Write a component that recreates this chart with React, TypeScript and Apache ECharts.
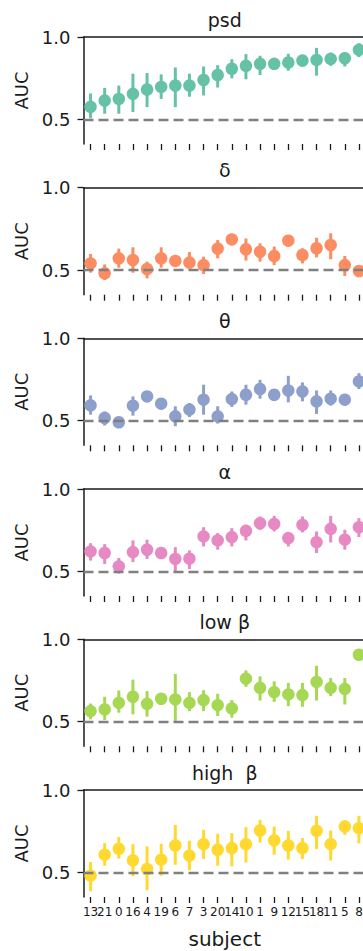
import React, { useEffect, useRef } from "react";
import * as echarts from "echarts";

// Subjects, ordered by their mean psd AUC
const subjects = ["13", "21", "0", "16", "4", "19", "6", "7", "3", "20", "14", "10", "1", "9", "12", "15", "18", "11", "5", "8"];

const bandNames = ["psd", "δ", "θ", "α", "low β", "high  β"];
const bandColors = ["#66c2a5", "#fc8d62", "#8da0cb", "#e78ac3", "#a6d854", "#ffd92f"];

// Mean AUC per subject and the bounds of its confidence interval
const psdMean = [0.576, 0.614, 0.624, 0.655, 0.681, 0.697, 0.705, 0.705, 0.739, 0.769, 0.807, 0.825, 0.837, 0.837, 0.845, 0.857, 0.861, 0.867, 0.871, 0.922];
const psdLow = [0.506, 0.534, 0.534, 0.544, 0.574, 0.624, 0.574, 0.637, 0.645, 0.693, 0.749, 0.743, 0.769, 0.809, 0.795, 0.821, 0.765, 0.825, 0.821, 0.878];
const psdHigh = [0.657, 0.691, 0.705, 0.777, 0.781, 0.773, 0.815, 0.777, 0.821, 0.829, 0.865, 0.896, 0.886, 0.869, 0.898, 0.882, 0.934, 0.906, 0.906, 0.962];

const deltaMean = [0.540, 0.480, 0.571, 0.561, 0.506, 0.571, 0.555, 0.545, 0.530, 0.630, 0.686, 0.626, 0.611, 0.585, 0.678, 0.591, 0.632, 0.652, 0.530, 0.494];
const deltaLow = [0.484, 0.439, 0.514, 0.484, 0.449, 0.514, 0.524, 0.510, 0.476, 0.571, 0.652, 0.557, 0.551, 0.530, 0.654, 0.540, 0.577, 0.565, 0.464, 0.459];
const deltaHigh = [0.597, 0.534, 0.630, 0.638, 0.551, 0.638, 0.581, 0.609, 0.581, 0.682, 0.719, 0.692, 0.662, 0.642, 0.698, 0.632, 0.696, 0.723, 0.585, 0.530];

const thetaMean = [0.593, 0.516, 0.490, 0.591, 0.647, 0.603, 0.526, 0.567, 0.627, 0.526, 0.631, 0.657, 0.692, 0.657, 0.683, 0.677, 0.617, 0.633, 0.627, 0.738];
const thetaLow = [0.536, 0.470, 0.456, 0.530, 0.617, 0.571, 0.466, 0.522, 0.536, 0.482, 0.583, 0.597, 0.633, 0.627, 0.611, 0.617, 0.540, 0.591, 0.597, 0.692];
const thetaHigh = [0.653, 0.556, 0.516, 0.647, 0.677, 0.637, 0.587, 0.607, 0.718, 0.587, 0.677, 0.718, 0.748, 0.688, 0.772, 0.732, 0.683, 0.683, 0.657, 0.788];

const alphaMean = [0.621, 0.611, 0.530, 0.617, 0.631, 0.611, 0.575, 0.577, 0.712, 0.688, 0.708, 0.746, 0.792, 0.788, 0.702, 0.782, 0.677, 0.758, 0.692, 0.768];
const alphaLow = [0.565, 0.544, 0.486, 0.556, 0.575, 0.581, 0.490, 0.514, 0.651, 0.631, 0.651, 0.688, 0.752, 0.742, 0.651, 0.736, 0.611, 0.675, 0.631, 0.708];
const alphaHigh = [0.671, 0.665, 0.581, 0.688, 0.692, 0.641, 0.647, 0.627, 0.768, 0.732, 0.762, 0.782, 0.833, 0.837, 0.736, 0.833, 0.742, 0.837, 0.752, 0.823];

const lowBetaMean = [0.564, 0.574, 0.614, 0.651, 0.608, 0.639, 0.635, 0.614, 0.631, 0.600, 0.580, 0.761, 0.705, 0.679, 0.665, 0.661, 0.741, 0.705, 0.699, 0.906];
const lowBetaLow = [0.514, 0.510, 0.554, 0.544, 0.530, 0.608, 0.504, 0.564, 0.564, 0.534, 0.524, 0.711, 0.628, 0.620, 0.594, 0.590, 0.628, 0.655, 0.604, 0.880];
const lowBetaHigh = [0.610, 0.651, 0.689, 0.755, 0.685, 0.669, 0.789, 0.679, 0.691, 0.669, 0.631, 0.811, 0.775, 0.745, 0.735, 0.735, 0.839, 0.765, 0.765, 0.932];

const highBetaMean = [0.480, 0.607, 0.643, 0.573, 0.520, 0.577, 0.663, 0.601, 0.671, 0.637, 0.647, 0.671, 0.754, 0.694, 0.663, 0.647, 0.752, 0.671, 0.778, 0.768];
const highBetaLow = [0.385, 0.540, 0.583, 0.476, 0.391, 0.480, 0.546, 0.512, 0.581, 0.540, 0.536, 0.560, 0.681, 0.607, 0.577, 0.581, 0.641, 0.571, 0.728, 0.677];
const highBetaHigh = [0.563, 0.677, 0.714, 0.671, 0.657, 0.673, 0.788, 0.692, 0.758, 0.734, 0.738, 0.774, 0.819, 0.778, 0.752, 0.708, 0.843, 0.754, 0.815, 0.843];

const yTicks = [0.5, 1.0];
const chanceLevel = 0.5;

const means = [psdMean, deltaMean, thetaMean, alphaMean, lowBetaMean, highBetaMean];
const lows = [psdLow, deltaLow, thetaLow, alphaLow, lowBetaLow, highBetaLow];
const highs = [psdHigh, deltaHigh, thetaHigh, alphaHigh, lowBetaHigh, highBetaHigh];

const FONT = "DejaVu Sans";
const INK = "#1a1a1a";

const gridTops = [37, 187.7, 338.3, 489, 639.3, 790];
const GRID_LEFT = 83.5;
const GRID_WIDTH = 282.5;
const GRID_HEIGHT = 107;

export default function App() {
  const ref = useRef<HTMLDivElement>(null);

  useEffect(() => {
    if (!ref.current) return;
    const chart = echarts.init(ref.current, undefined, { renderer: "svg" });
    const n = bandNames.length;

    const grids = gridTops.map((top) => ({
      left: GRID_LEFT,
      top,
      width: GRID_WIDTH,
      height: GRID_HEIGHT,
      containLabel: false,
      outerBoundsMode: "none",
    }));

    const bottomAxes = bandNames.map((_, k) => ({
      type: "category",
      gridIndex: k,
      data: subjects,
      position: "bottom",
      boundaryGap: true,
      axisLine: { show: false },
      axisTick: { show: true, alignWithLabel: true, length: 6, lineStyle: { color: INK, width: 1.3 } },
      axisLabel: {
        show: k === n - 1,
        interval: 0,
        margin: 9,
        fontFamily: FONT,
        fontSize: 12,
        color: INK,
      },
      splitLine: { show: false },
    }));

    // top spine of each panel
    const topAxes = bandNames.map((_, k) => ({
      type: "value",
      gridIndex: k,
      position: "top",
      min: 0,
      max: 1,
      axisLine: { show: true, onZero: false, lineStyle: { color: INK, width: 1.5 } },
      axisTick: { show: false },
      axisLabel: { show: false },
      splitLine: { show: false },
    }));

    const yAxes = bandNames.map((_, k) => ({
      type: "value",
      gridIndex: k,
      min: 0.35,
      max: 1.0,
      name: "AUC",
      nameLocation: "middle",
      nameRotate: 90,
      nameGap: 50,
      nameTextStyle: { fontFamily: FONT, fontSize: 18, color: INK },
      axisLine: { show: true, onZero: false, lineStyle: { color: INK, width: 1.5 } },
      axisTick: { show: true, length: 6, customValues: yTicks, lineStyle: { color: INK, width: 1.3 } },
      axisLabel: {
        customValues: yTicks,
        margin: 13,
        fontFamily: FONT,
        fontSize: 18,
        color: INK,
        formatter: (v: number) => v.toFixed(1),
      },
      splitLine: { show: false },
    }));

    const series: any[] = [];
    bandNames.forEach((_, k) => {
      const color = bandColors[k];
      series.push({
        type: "line",
        xAxisIndex: k,
        yAxisIndex: k,
        data: [],
        z: 1,
        silent: true,
        markLine: {
          silent: true,
          symbol: ["none", "none"],
          label: { show: false },
          lineStyle: { color: "#808080", type: [10, 5], width: 2.4 },
          data: [{ yAxis: chanceLevel }],
        },
      });
      series.push({
        type: "custom",
        xAxisIndex: k,
        yAxisIndex: k,
        z: 2,
        silent: true,
        data: subjects.map((_, i) => [i, lows[k][i], highs[k][i]]),
        encode: { x: 0, y: [1, 2] },
        renderItem: (params: any, api: any) => {
          const i = api.value(0);
          const p1 = api.coord([i, api.value(1)]);
          const p2 = api.coord([i, api.value(2)]);
          return {
            type: "line",
            shape: { x1: p1[0], y1: p1[1], x2: p2[0], y2: p2[1] },
            style: { stroke: color, lineWidth: 3 },
          };
        },
      });
      series.push({
        type: "scatter",
        xAxisIndex: k,
        yAxisIndex: k,
        z: 3,
        symbol: "circle",
        symbolSize: 12.5,
        itemStyle: { color, opacity: 1 },
        data: subjects.map((_, i) => [i, means[k][i]]),
      });
    });

    const titleYs = [20, 170, 320.7, 471.7, 621.7, 772.7];
    const graphics: any[] = bandNames.map((name, k) => ({
      type: "text",
      x: GRID_LEFT + GRID_WIDTH / 2,
      y: titleYs[k],
      style: {
        text: name,
        fontFamily: FONT,
        fontSize: 19,
        fill: INK,
        textAlign: "center",
        textVerticalAlign: "middle",
      },
    }));
    graphics.push({
      type: "text",
      x: GRID_LEFT + GRID_WIDTH / 2,
      y: 939,
      style: {
        text: "subject",
        fontFamily: FONT,
        fontSize: 20,
        fill: INK,
        textAlign: "center",
        textVerticalAlign: "middle",
      },
    });

    chart.setOption({
      animation: false,
      backgroundColor: "#ffffff",
      grid: grids,
      xAxis: [...bottomAxes, ...topAxes],
      yAxis: yAxes,
      series,
      graphic: graphics,
    });

    return () => chart.dispose();
  }, []);

  return (
    <div style={{ position: "absolute", left: 0, top: 0, width: 363, height: 951, overflow: "hidden", background: "#fff" }}>
      <div ref={ref} style={{ width: 380, height: 951 }} />
    </div>
  );
}
